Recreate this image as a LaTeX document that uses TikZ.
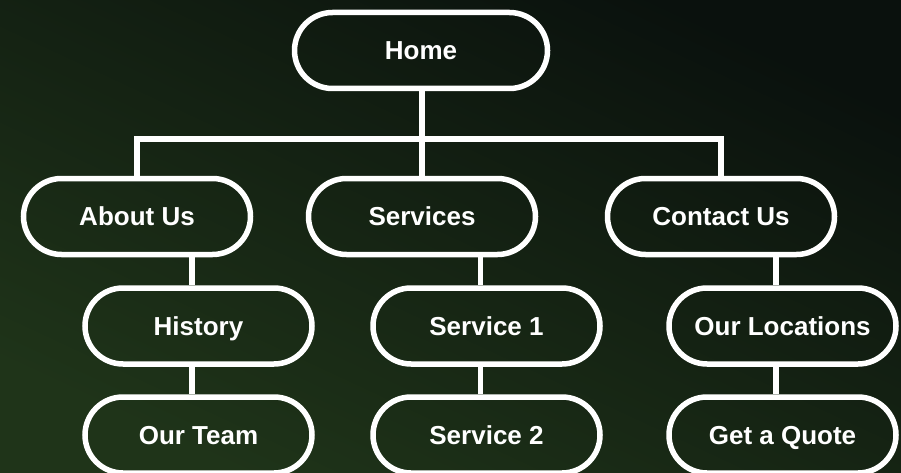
\documentclass[tikz,border=0pt]{standalone}
\usepackage{fontspec}
\setmainfont{Liberation Sans}
\begin{document}
\definecolor{bgDark}{HTML}{0A110D}
\definecolor{bgGreen}{HTML}{1F3419}
\begin{tikzpicture}[x=1pt, y=-1pt,
  pill/.style={draw=white, line width=5.5pt, rounded corners=38pt,
    minimum width=227pt, minimum height=76pt, inner sep=0pt,
    text height=18.7pt, text depth=0pt,
    text=white, font=\fontsize{26}{30}\selectfont\bfseries},
  homepill/.style={pill, minimum width=253pt},
  conn/.style={draw=white, line width=5.5pt}]
  % background gradient
  \shade[shading=axis, top color=bgDark, bottom color=bgGreen, shading angle=-25]
    (0,0) rectangle (901,473);
  \useasboundingbox (0,0) rectangle (901,473);

  % nodes
  \node[homepill] (home) at (421,50.5) {Home};

  \node[pill] (about)    at (137,216.5)  {About Us};
  \node[pill] (services) at (422,216.5)  {Services};
  \node[pill] (contact)  at (721,216.5)  {Contact Us};

  \node[pill] (history)  at (198.5,326) {History};
  \node[pill] (team)     at (198.5,435) {Our Team};
  \node[pill] (serv1)    at (486.5,326) {Service 1};
  \node[pill] (serv2)    at (486.5,435) {Service 2};
  \node[pill] (locs)     at (782.5,326) {Our Locations};
  \node[pill] (quote)    at (782.5,435) {Get a Quote};

  % bus between Home and the section row
  \coordinate (busL) at (137,139);
  \coordinate (busR) at (721,139);
  \draw[conn] (home.south -| services.north) -- (services.north);
  \draw[conn] (about.north) -- (busL) -- (busR) -- (contact.north);

  % section columns
  \coordinate (colA) at (192,0);
  \coordinate (colS) at (480.5,0);
  \coordinate (colC) at (776,0);
  \draw[conn] (about.south -| colA) -- (history.north -| colA);
  \draw[conn] (history.south -| colA) -- (team.north -| colA);
  \draw[conn] (services.south -| colS) -- (serv1.north -| colS);
  \draw[conn] (serv1.south -| colS) -- (serv2.north -| colS);
  \draw[conn] (contact.south -| colC) -- (locs.north -| colC);
  \draw[conn] (locs.south -| colC) -- (quote.north -| colC);
\end{tikzpicture}
\end{document}
